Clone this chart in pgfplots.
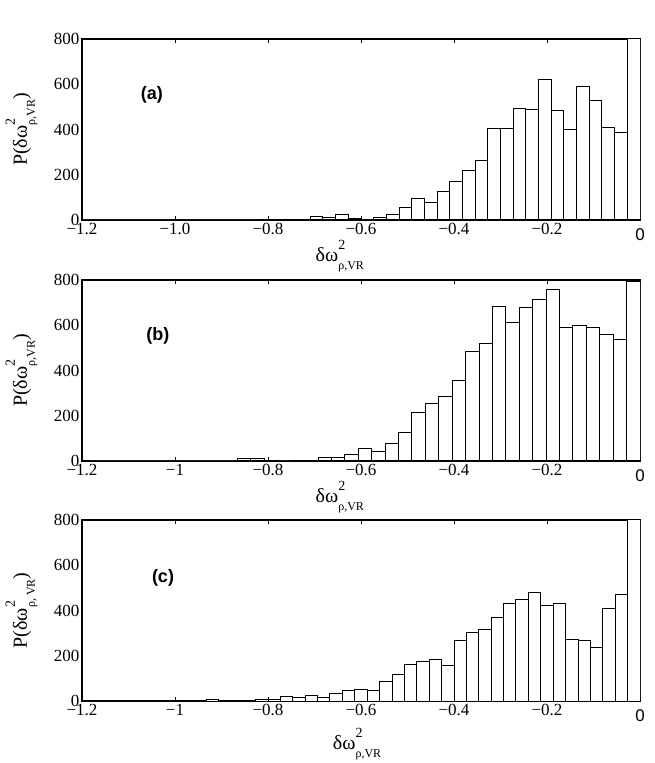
\documentclass[border=0pt]{standalone}
\usepackage{fontspec}
\setmainfont{Liberation Serif}
\newfontfamily\arial{Liberation Sans}
\usepackage{pgfplots}
\pgfplotsset{compat=1.18}

\newcommand{\lab}[1]{δω\rlap{\raisebox{12pt}{\fontsize{14}{14}\selectfont 2}}\raisebox{-8pt}{\fontsize{12}{12}\selectfont #1}}

\pgfplotsset{
 hist/.style={
  scale only axis, width=558pt, height=181pt,
  xmin=-1.2, xmax=0, ymin=0, ymax=800,
  ytick={0,200,400,600,800},
  xtick={-1.2,-1,-0.8,-0.6,-0.4,-0.2},
  axis line style={line width=1.1pt},
  tick style={line width=1pt, black},
  major tick length=4pt,
  ytick style={draw=none},
  tick label style={font=\fontsize{17}{17}\selectfont},
  yticklabel style={xshift=1pt},
  /pgf/number format/assume math mode=true,
  extra x ticks={0}, extra x tick labels={\arial 0},
  extra x tick style={tick label style={yshift=-5pt}, major tick length=0pt},
  label style={font=\fontsize{20}{20}\selectfont},
  ylabel style={at={(axis description cs:-0.0986,0.5)}, anchor=base, rotate=0},
 },
 bars/.style={ybar interval, fill=white, draw=black, line width=1pt},
}

\begin{document}
\begin{tikzpicture}
\path[use as bounding box] (0,0) rectangle (654pt,763pt);

% (a)
\begin{axis}[hist, at={(82pt,543pt)}, anchor=south west,
  xticklabels={−1.2,−1.0,−0.8,−0.6,−0.4,−0.2},
  xlabel={\lab{ρ,VR}},
  xlabel style={at={(axis description cs:0.462,0)}, anchor=base, yshift=-42pt},
  ylabel={P(\lab{ρ,VR})}]
\addplot[bars] coordinates {
(-1.2000,0) (-1.1727,0) (-1.1455,0) (-1.1182,0) (-1.0909,0) (-1.0636,0)
(-1.0364,0) (-1.0091,0) (-0.9818,0) (-0.9545,0) (-0.9273,0) (-0.9000,0)
(-0.8727,0) (-0.8455,0) (-0.8182,2) (-0.7909,4) (-0.7636,1) (-0.7364,1)
(-0.7091,14) (-0.6818,10) (-0.6545,24) (-0.6273,7) (-0.6000,4) (-0.5727,9)
(-0.5455,25) (-0.5182,56) (-0.4909,96) (-0.4636,78) (-0.4364,125) (-0.4091,169)
(-0.3818,218) (-0.3545,265) (-0.3273,403) (-0.3000,406) (-0.2727,493) (-0.2455,490)
(-0.2182,619) (-0.1909,485) (-0.1636,401) (-0.1364,591) (-0.1091,526) (-0.0818,407)
(-0.0545,388) (-0.0273,1000) (0,1000)
};
\node[font=\arial\bfseries\fontsize{18}{18}\selectfont] at (axis cs:-1.0495,552) {(a)};
\end{axis}

% (b)
\begin{axis}[hist, at={(82pt,302pt)}, anchor=south west,
  xticklabels={−1.2,−1,−0.8,−0.6,−0.4,−0.2},
  xlabel={\lab{ρ,VR}},
  xlabel style={at={(axis description cs:0.462,0)}, anchor=base, yshift=-42pt},
  ylabel={P(\lab{ρ,VR})}]
\addplot[bars] coordinates {
(-1.1829,0) (-1.1540,0) (-1.1252,0) (-1.0963,0) (-1.0675,0) (-1.0386,0)
(-1.0098,0) (-0.9809,0) (-0.9521,0) (-0.9232,0) (-0.8944,0) (-0.8655,10)
(-0.8367,10) (-0.8078,3) (-0.7790,0) (-0.7501,2) (-0.7213,3) (-0.6924,14)
(-0.6636,14) (-0.6347,30) (-0.6059,55) (-0.5770,44) (-0.5482,77) (-0.5193,127)
(-0.4905,215) (-0.4616,255) (-0.4328,283) (-0.4039,355) (-0.3751,483) (-0.3462,519)
(-0.3174,684) (-0.2885,610) (-0.2597,679) (-0.2308,712) (-0.2020,759) (-0.1731,590)
(-0.1443,597) (-0.1154,591) (-0.0866,557) (-0.0577,539) (-0.0289,794) (0,794)
};
\node[font=\arial\bfseries\fontsize{18}{18}\selectfont] at (axis cs:-1.0366,552) {(b)};
\end{axis}

% (c)
\begin{axis}[hist, at={(82pt,62pt)}, anchor=south west,
  xticklabels={−1.2,−1,−0.8,−0.6,−0.4,−0.2},
  xlabel={\lab{ρ,VR}},
  xlabel style={at={(axis description cs:0.493,0)}, anchor=base, yshift=-48pt},
  ylabel={P(\lab{ρ, VR})}]
\addplot[bars] coordinates {
(-1.2000,0) (-1.1733,1) (-1.1467,1) (-1.1200,1) (-1.0933,3) (-1.0667,1)
(-1.0400,1) (-1.0133,1) (-0.9867,3) (-0.9600,2) (-0.9333,5) (-0.9067,3)
(-0.8800,3) (-0.8533,4) (-0.8267,7) (-0.8000,8) (-0.7733,19) (-0.7467,16)
(-0.7200,24) (-0.6933,14) (-0.6667,32) (-0.6400,47) (-0.6133,52) (-0.5867,48)
(-0.5600,87) (-0.5333,116) (-0.5067,163) (-0.4800,174) (-0.4533,184) (-0.4267,157)
(-0.4000,269) (-0.3733,301) (-0.3467,318) (-0.3200,369) (-0.2933,431) (-0.2667,449)
(-0.2400,481) (-0.2133,422) (-0.1867,432) (-0.1600,274) (-0.1333,266) (-0.1067,235)
(-0.0800,410) (-0.0533,472) (-0.0267,1000) (0,1000)
};
\node[font=\arial\bfseries\fontsize{18}{18}\selectfont] at (axis cs:-1.0258,544) {(c)};
\end{axis}
\end{tikzpicture}
\end{document}
